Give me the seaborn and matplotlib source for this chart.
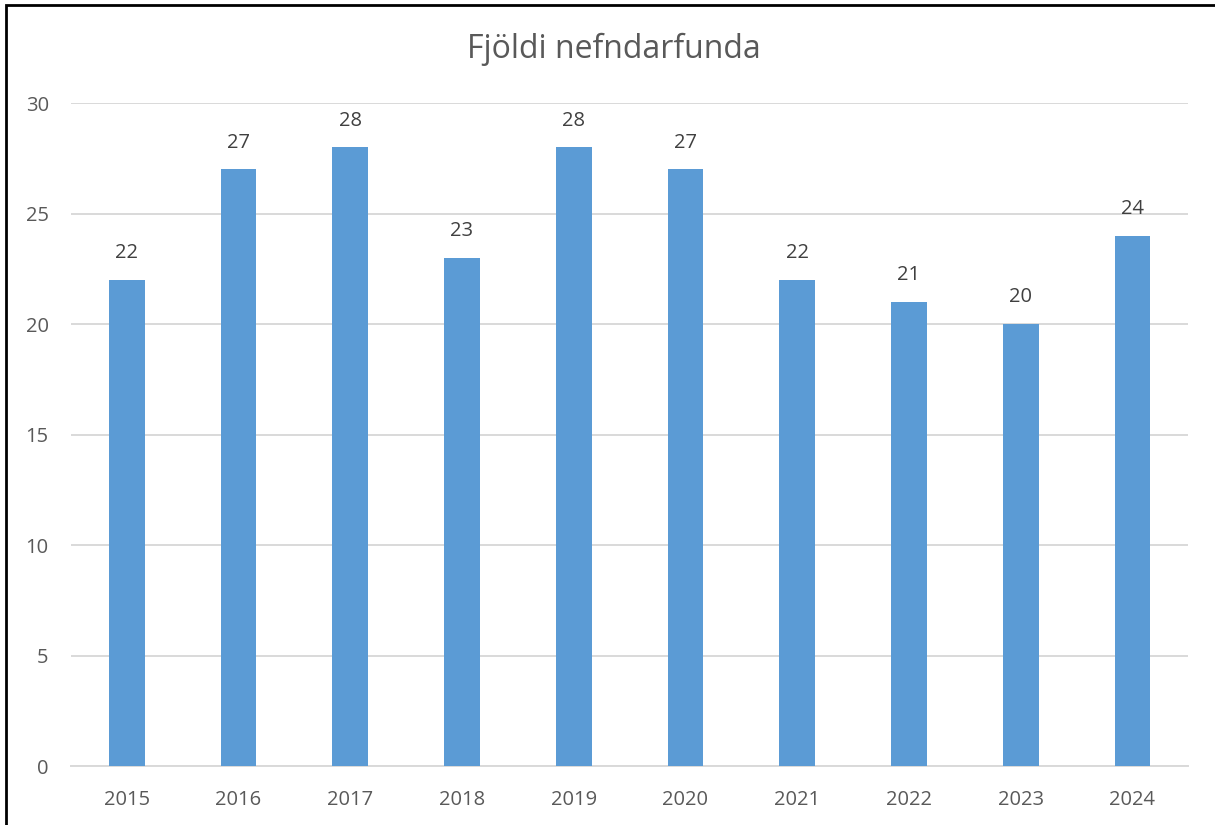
import matplotlib
matplotlib.use("Agg")
import matplotlib.pyplot as plt
import pandas as pd
import seaborn as sns
from matplotlib.patches import Rectangle

years = ["2015", "2016", "2017", "2018", "2019", "2020", "2021", "2022", "2023", "2024"]
meetings = [22, 27, 28, 23, 28, 27, 22, 21, 20, 24]

BAR_COLOR = "#5B9BD5"
TEXT_COLOR = "#595959"
LABEL_COLOR = "#404040"
GRID_COLOR = "#D9D9D9"

sns.set_theme(style="white")
plt.rcParams["font.family"] = ["Open Sans", "DejaVu Sans"]

df = pd.DataFrame({"year": years, "count": meetings})

fig = plt.figure(figsize=(12.15, 8.25), dpi=100)
ax = fig.add_axes([0.0584, 0.0715, 0.9196, 0.8035])

sns.barplot(data=df, x="year", y="count", color=BAR_COLOR, width=0.32,
            saturation=1, linewidth=0, ax=ax, zorder=3)

ax.set_ylim(0, 30)
ax.set_yticks(range(0, 31, 5))
ax.set_xlim(-0.5, len(years) - 0.5)
ax.yaxis.grid(True, color=GRID_COLOR, linewidth=1.4, zorder=0)
ax.set_axisbelow(True)
for side in ["top", "right", "left"]:
    ax.spines[side].set_visible(False)
ax.spines["bottom"].set_color(GRID_COLOR)
ax.spines["bottom"].set_linewidth(1.4)
ax.tick_params(axis="both", length=0, labelsize=14.5, labelcolor=TEXT_COLOR)
ax.tick_params(axis="y", pad=16)
ax.tick_params(axis="x", pad=17)
ax.set_xlabel("")
ax.set_ylabel("")

for container in ax.containers:
    ax.bar_label(container, fontsize=14.5, color=LABEL_COLOR, padding=12)

fig.text(0.505, 0.94, "Fjöldi nefndarfunda", ha="center", va="center",
         fontsize=23, color=TEXT_COLOR)

# outer frame: left and top edges only
fig.patches.append(Rectangle((6 / 1215, -0.05), 1.1, 1.05 - 5 / 825,
                             transform=fig.transFigure, fill=False,
                             edgecolor="black", linewidth=2, zorder=10))

plt.savefig("out.png", dpi=100)
